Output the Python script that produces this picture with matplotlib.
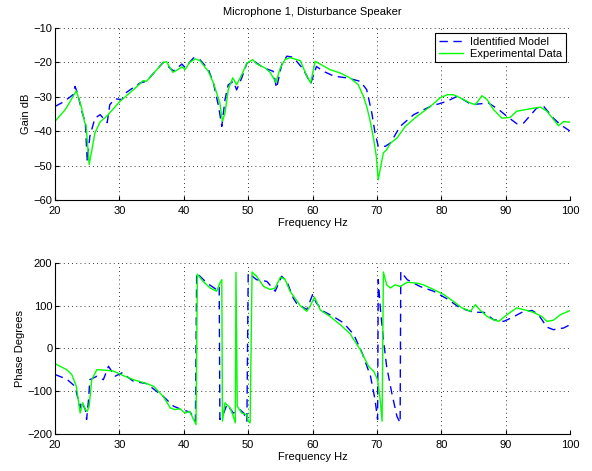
import matplotlib.pyplot as plt

plt.rcParams['font.family'] = ['Liberation Sans', 'DejaVu Sans']
plt.rcParams['font.size'] = 8

# gain, identified model
f_gain_model = [20, 21.3, 22.8, 23.1, 23.5, 24.2, 24.7, 25.0, 25.4, 26.2, 27.0, 28.1, 28.5, 29.3,
                30.4, 31.1, 33.2, 34.2, 36.8, 38.4, 39.7, 40.2, 41.5, 42.5, 43.8, 44.6, 45.4,
                45.9, 46.4, 46.9, 47.7, 48.2, 49.0, 49.8, 50.8, 52.4, 53.9, 54.4, 55.2, 56.0,
                57.0, 58.6, 59.7, 60.6, 61.7, 63.3, 65.3, 67.4, 68.4, 69.2, 69.7, 70.2, 71.3,
                72.1, 73.6, 75.7, 78.3, 80.9, 82.4, 83.4, 84.7, 87.3, 88.9, 90.2, 91.7, 92.8,
                94.8, 95.9, 97.4, 98.5, 100]
gain_model = [-32.8, -31.5, -29.4, -27.0, -29.0, -34.5, -37.5, -48.8, -41.5, -36.2, -35.2, -37.5,
              -32.3, -30.6, -30.8, -28.7, -26.0, -25.5, -20.0, -22.5, -20.5, -21.5, -18.7, -19.2,
              -22.0, -26.0, -32.8, -38.6, -30.8, -26.5, -25.5, -28.0, -24.5, -20.2, -19.5, -21.6,
              -22.6, -27.5, -20.7, -18.2, -18.5, -22.1, -26.2, -21.2, -22.6, -24.0, -24.5, -25.5,
              -27.9, -34.7, -40.5, -44.4, -44.4, -43.4, -38.6, -35.2, -32.8, -31.3, -29.9, -30.8,
              -32.3, -31.8, -33.7, -35.7, -37.8, -37.6, -33.3, -32.8, -36.2, -38.1, -40.0]

# gain, experimental data
f_gain_exp = [20, 21.6, 23.3, 24.1, 24.6, 24.8, 25.3, 26.2, 27.0, 28.0, 30.1, 32.2, 33.7, 34.2,
              36.8, 37.3, 38.3, 38.9, 39.7, 40.2, 40.9, 41.8, 42.5, 43.8, 44.6, 45.6, 46.0,
              46.4, 46.9, 47.6, 48.2, 49.0, 49.8, 50.7, 51.3, 52.6, 53.4, 54.3, 55.0, 55.7,
              56.5, 58.1, 59.1, 59.7, 60.4, 61.2, 62.7, 64.3, 65.8, 67.1, 67.9, 68.4, 68.9,
              69.5, 69.9, 70.2, 70.5, 71.0, 71.5, 72.1, 73.1, 74.4, 76.2, 78.3, 79.8, 80.9,
              81.9, 82.9, 84.5, 85.3, 86.3, 87.1, 88.1, 89.4, 90.7, 91.7, 93.8, 95.4, 96.4,
              98.2, 99.0, 100]
gain_exp = [-37.1, -33.7, -28.3, -33.0, -37.6, -38.0, -49.7, -40.5, -37.3, -35.7, -31.3, -27.9,
            -25.3, -25.5, -20.0, -19.8, -22.9, -22.3, -21.3, -22.1, -20.0, -19.0, -19.5, -22.6,
            -26.0, -31.8, -37.1, -34.7, -27.9, -24.5, -26.5, -23.6, -20.2, -19.2, -20.4, -21.6,
            -22.9, -25.8, -21.6, -19.2, -18.6, -19.5, -24.0, -26.0, -19.7, -20.5, -22.1, -23.1,
            -24.5, -26.5, -29.9, -32.8, -36.6, -42.5, -47.3, -54.1, -51.1, -46.3, -45.4, -43.5,
            -42.0, -38.6, -35.7, -32.8, -30.3, -29.4, -29.4, -30.3, -31.8, -32.3, -29.7, -30.8,
            -33.7, -36.2, -36.0, -34.2, -33.5, -33.0, -34.2, -38.4, -37.2, -37.4]

# phase, identified model
f_phase_model = [20, 21.8, 23.1, 23.9, 24.1, 24.7, 24.9, 25.2, 25.4, 26.5, 27.5, 28.3, 29.3, 30.4,
                 32.2, 34.2, 36.8, 38.4, 39.7, 41.0, 41.8, 42.0, 43.6, 45.1, 45.5, 45.6, 46.2,
                 46.7, 47.7, 48.7, 49.3, 49.8, 50.0, 51.3, 52.9, 54.2, 55.2, 56.0, 57.0, 57.5,
                 59.1, 60.0, 60.6, 61.7, 63.3, 64.8, 66.4, 67.7, 69.0, 69.7, 70.1, 70.2, 70.5,
                 71.0, 71.5, 72.3, 73.1, 73.6, 73.7, 74.7, 76.7, 78.8, 80.9, 82.9, 85.0, 86.6,
                 88.1, 89.7, 91.2, 92.8, 94.1, 95.1, 96.4, 97.4, 99.0, 100]
phase_model = [-61, -71.5, -88.5, -139, -123.5, -143, -166, -120, -73, -65, -73, -41.7, -65, -57,
               -77, -82, -112, -135, -143, -149, -170, 176.6, 153, 137.6, 145, -166, -151,
               -131, -151, -143, -151, -170, 176.6, 161, 157, 134, 169, 157, 118, 106,
               91, 126, 106, 87, 74, 60, 32.6, -10.5, -65, -119.7, -166, 161, 98.6,
               20.7, -41.7, -104, -158.7, -174, 180, 161, 145, 134, 116, 95, 84.6, 84.6,
               67.5, 63.5, 74, 87, 89, 79, 50, 44, 48, 55.7]

# phase, experimental data
f_phase_exp = [20, 21.8, 22.6, 23.3, 23.9, 24.3, 24.7, 25.0, 25.3, 25.7, 26.5, 28.0, 29.1, 30.6,
               32.2, 34.2, 35.3, 36.8, 37.9, 38.6, 39.4, 40.2, 40.9, 41.9, 42.1, 43.0, 44.1,
               45.1, 45.6, 45.9, 46.0, 46.4, 47.2, 47.7, 48.0, 48.1, 48.3, 49.0, 49.8, 50.0,
               50.3, 50.6, 51.3, 52.4, 53.4, 54.2, 55.0, 55.7, 56.5, 58.1, 59.1, 59.6, 60.3,
               61.2, 62.7, 64.3, 65.8, 67.4, 68.7, 69.5, 70.1, 70.5, 70.8, 71.0, 71.5, 72.1,
               72.8, 73.6, 74.7, 76.2, 77.2, 78.8, 80.4, 81.9, 83.2, 84.5, 85.3, 86.0, 87.1,
               87.8, 88.9, 90.2, 91.7, 92.8, 94.3, 95.6, 96.4, 97.4, 98.5, 100]
phase_exp = [-35.5, -49.5, -61, -88.5, -151, -127, -143, -147, -135, -73, -49.5, -51, -53, -63.5,
             -73, -82, -88.5, -112, -139, -143, -141, -151, -147, -178, 174, 157, 141.5,
             134, 153, 161, -170, -127, -139, -159, -174, 178, -135, -151, -155, -170,
             -174, 179, 169, 145, 138, 141.5, 167, 162.5, 134, 100, 87, 98.6, 120,
             90, 75, 55.7, 35, -2.7, -41.7, -53.4, -73, -119.7, -170, 179, 149, 141.5,
             149, 145, 155, 153, 149, 138, 126, 110, 95, 87, 102.5, 90, 75,
             69, 63.5, 79, 95, 91, 84.6, 75, 63.5, 66, 79, 89]

fig = plt.figure(figsize=(5.92, 4.71), dpi=100)
ax1 = fig.add_axes([0.093, 0.5754, 0.870, 0.3652])
ax2 = fig.add_axes([0.093, 0.0786, 0.870, 0.363])

blue = '#0000ff'
green = '#00ff00'

ax1.plot(f_gain_model, gain_model, color=blue, linestyle=(0, (6, 4)), linewidth=1,
         label='Identified Model')
ax1.plot(f_gain_exp, gain_exp, color=green, linewidth=1, label='Experimental Data')
ax2.plot(f_phase_model, phase_model, color=blue, linestyle=(0, (6, 4)), linewidth=1)
ax2.plot(f_phase_exp, phase_exp, color=green, linewidth=1)

ax1.set_ylim(-60, -10)
ax1.set_yticks(range(-60, 0, 10))
ax2.set_ylim(-200, 200)
ax2.set_yticks(range(-200, 201, 100))

for ax in (ax1, ax2):
    ax.set_xlim(20, 100)
    ax.set_xticks(range(20, 101, 10))
    ax.grid(True, color='black', linestyle=(0, (1, 4)), linewidth=0.6)
    ax.spines['top'].set_visible(False)
    ax.spines['right'].set_visible(False)
    ax.tick_params(direction='in', length=3, pad=2)
    ax.tick_params(axis='x', pad=4)
    ax.set_xlabel('Frequency Hz', labelpad=2)

ax1.set_ylabel('Gain dB', labelpad=2)
ax2.set_ylabel('Phase Degrees', labelpad=2)
ax1.set_title('Microphone 1, Disturbance Speaker', fontsize=8, pad=9)

leg = ax1.legend(loc='upper right', fancybox=False, framealpha=1, borderpad=0.35,
                 handlelength=2.2, handletextpad=0.6, labelspacing=0.15,
                 borderaxespad=0, bbox_to_anchor=(0.992, 0.971))
leg.get_frame().set_edgecolor('black')
leg.get_frame().set_linewidth(0.8)

fig.savefig('out.png', dpi=100)
